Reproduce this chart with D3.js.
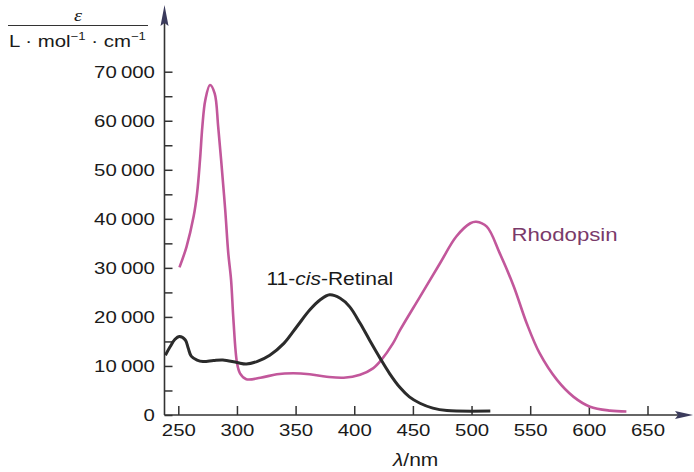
<!DOCTYPE html>
<html>
<head>
<meta charset="utf-8">
<script src="https://cdn.jsdelivr.net/npm/d3@7"></script>
<style>
  body { margin: 0; background: #fff; }
  svg { display: block; }
</style>
</head>
<body>
<div id="chart"></div>
<script>
// wavelength (nm) and molar absorption coefficient
const retinalNm = [239, 243, 247, 251, 256, 258.5, 261, 266, 271, 280, 288, 300, 308, 317, 328, 340,
    351, 362, 371, 379, 388, 396, 405, 413, 422, 430, 439, 447, 456, 467, 479, 516]
const retinalEps = [12200, 13900, 15400, 16000, 15300, 13600, 12000, 11200, 10900, 11100, 11200, 10700,
    10400, 10900, 12200, 14600, 18000, 21400, 23500, 24500, 23800, 22100, 18700, 15300, 11600, 8500,
    5600, 3700, 2400, 1400, 900, 800]

const rhodoNm = [251, 257, 263, 266, 268.5, 270.5, 273, 277, 281, 284, 287, 290, 292.6, 295, 297, 300,
    302.6, 308, 320, 334, 348, 362, 376.5, 391, 405, 416, 423, 433, 439, 456, 473, 487, 499, 504, 513,
    524, 536, 547, 558, 573, 587, 601, 618, 632]
const rhodoEps = [30100, 34300, 40400, 45200, 52000, 58800, 64200, 67300, 65600, 58800, 50600, 41800,
    33000, 27500, 19400, 10700, 8500, 7300, 7600, 8300, 8500, 8300, 7800, 7600, 8200, 9500, 11200,
    14600, 17300, 24100, 30900, 36400, 39100, 39400, 38400, 33000, 26200, 18700, 12600, 7100, 3700,
    1700, 900, 700]

const xTicks = [250, 300, 350, 400, 450, 500, 550, 600, 650]
const yTicks = d3.range(0, 70001, 5000)
const yLabelled = [0, 10000, 20000, 30000, 40000, 50000, 60000, 70000]

const width = 694, height = 472
const SX = 1.2   // the scanned figure is stretched sideways
const font = "'Liberation Sans', Arial, Helvetica, sans-serif"
const axisColor = "#333"

const svg = d3.select("#chart").append("svg")
    .attr("width", width)
    .attr("height", height)
    .style("font-family", font)

const x = d3.scaleLinear().domain([250, 650]).range([178.3, 647.5])
const y = d3.scaleLinear().domain([0, 70000]).range([415, 71.7])

const x0 = 164.5, y0 = y(0)

// axes
const yFmt = d => d === 0 ? "0" : d3.format(",")(d).replace(",", "\u2009")

const yAxis = svg.append("g")
    .attr("transform", `translate(${x0},0)`)
    .call(d3.axisLeft(y)
        .tickValues(yTicks)
        .tickSize(-8)
        .tickPadding(8)
        .tickFormat(d => yLabelled.includes(d) ? yFmt(d) : ""))
yAxis.select(".domain").remove()

const xAxis = svg.append("g")
    .attr("transform", `translate(0,${y0})`)
    .call(d3.axisBottom(x)
        .tickValues(xTicks)
        .tickSize(-9)
        .tickPadding(9)
        .tickFormat(d3.format("d")))
xAxis.select(".domain").remove()

svg.selectAll(".tick line")
    .attr("stroke", axisColor)
    .attr("stroke-width", 1.5)
svg.selectAll(".tick text")
    .attr("transform", `scale(${SX},1)`)
    .attr("fill", "#1a1a1a")
    .style("font-family", font)
    .style("font-size", "17px")

// axis lines with arrow heads
svg.append("line")
    .attr("x1", x0).attr("y1", y0)
    .attr("x2", x0).attr("y2", 22)
    .attr("stroke", axisColor).attr("stroke-width", 1.6)
svg.append("path")
    .attr("d", `M${x0},5 L${x0 + 4},26 L${x0},23 L${x0 - 4},26 Z`)
    .attr("fill", "#3b3b5c")

svg.append("line")
    .attr("x1", x0).attr("y1", y0)
    .attr("x2", 680).attr("y2", y0)
    .attr("stroke", axisColor).attr("stroke-width", 1.6)
svg.append("path")
    .attr("d", `M693,${y0} L675,${y0 - 4} L678,${y0} L675,${y0 + 4} Z`)
    .attr("fill", "#3b3b5c")

// curves
const line = d3.line()
    .x(d => x(d[0]))
    .y(d => y(d[1]))
    .curve(d3.curveCatmullRom.alpha(0.5))

svg.append("path")
    .attr("d", line(d3.zip(rhodoNm, rhodoEps)))
    .attr("fill", "none")
    .attr("stroke", "#c2579b")
    .attr("stroke-width", 2.6)
    .attr("stroke-linejoin", "round")

svg.append("path")
    .attr("d", line(d3.zip(retinalNm, retinalEps)))
    .attr("fill", "none")
    .attr("stroke", "#2b2b2b")
    .attr("stroke-width", 3)
    .attr("stroke-linejoin", "round")

// stretched text helper
function label(px, py, size, color) {
    return svg.append("g")
        .attr("transform", `translate(${px},${py}) scale(${SX},1)`)
        .append("text")
        .attr("fill", color)
        .style("font-size", size + "px")
}

const ret = label(266.5, 284.5, 17.5, "#1a1a1a")
ret.append("tspan").text("11-")
ret.append("tspan").style("font-style", "italic").text("cis")
ret.append("tspan").text("-Retinal")

label(511.5, 241, 18.5, "#7a3a6a").text("Rhodopsin")

// x title
const xt = label(393, 466, 17.5, "#1a1a1a")
xt.append("tspan").style("font-style", "italic").text("λ")
xt.append("tspan").text("/nm")

// y title as a fraction
label(78, 21, 17, "#1a1a1a")
    .attr("text-anchor", "middle")
    .style("font-family", "'Liberation Serif', 'Times New Roman', serif")
    .style("font-style", "italic")
    .text("ε")

svg.append("line")
    .attr("x1", 8).attr("x2", 148)
    .attr("y1", 25.5).attr("y2", 25.5)
    .attr("stroke", "#333").attr("stroke-width", 1.2)

const den = label(9, 46.5, 17, "#1a1a1a")
den.append("tspan").text("L · mol")
den.append("tspan").attr("dy", -7).style("font-size", "11px").text("−1")
den.append("tspan").attr("dy", 7).text(" · cm")
den.append("tspan").attr("dy", -7).style("font-size", "11px").text("−1")
</script>
</body>
</html>
